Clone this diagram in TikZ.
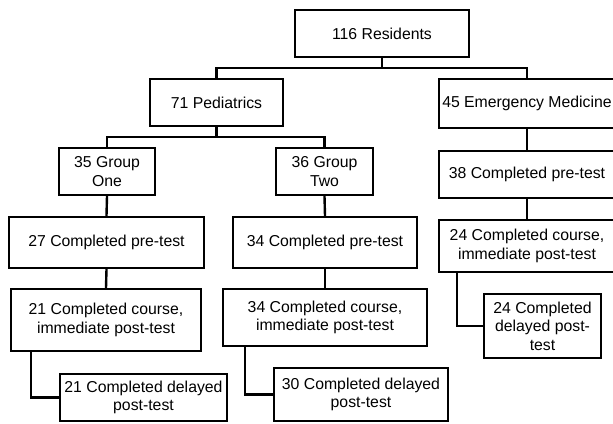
\documentclass[tikz,border=0pt]{standalone}
\usepackage{fontspec}
\setmainfont{Liberation Sans}
\usetikzlibrary{positioning, calc}
\definecolor{ChartBlack}{HTML}{000000}
\definecolor{ChartWhite}{HTML}{ffffff}
\tikzset{
    % Text in all boxes
    every node/.style={font=\fontsize{15.8}{18.5}\selectfont},
    % Flow chart box
    stage/.style={
        rectangle,
        draw=ChartBlack,
        fill=ChartWhite,
        line width=2.4pt,
        inner sep=0pt,
        align=center
    },
    % Connector between boxes
    link/.style={
        line width=2.4pt,
        draw=ChartBlack
    }
}
\begin{document}
\begin{tikzpicture}[x=1pt, y=-1pt]
        \useasboundingbox (0,0) rectangle (613,423);

        % Top levels
        \node (res) [stage, minimum width=174pt, minimum height=47pt] at (382,33.5) {116 Residents};
        \node (ped) [stage, minimum width=133pt, minimum height=47pt] at (216.5,102.5) {71 Pediatrics};
        \node (em) [stage, minimum width=176pt, minimum height=49pt] at (527,103.5) {45 Emergency Medicine};

        % Pediatrics groups
        \node (g1) [stage, minimum width=96pt, minimum height=47pt] at (107,171.5) {35 Group\\One};
        \node (g2) [stage, minimum width=97pt, minimum height=47pt] at (324.5,171.5) {36 Group\\Two};

        % Pre-test
        \node (pre1) [stage, minimum width=195pt, minimum height=51pt] at (106.5,242.5) {27 Completed pre-test};
        \node (pre2) [stage, minimum width=184pt, minimum height=51pt] at (325,242.5) {34 Completed pre-test};
        \node (pre3) [stage, minimum width=176pt, minimum height=47pt] at (527,174.5) {38 Completed pre-test};

        % Course and immediate post-test
        \node (course1) [stage, minimum width=190pt, minimum height=62pt] at (106,320) {21 Completed course,\\immediate post-test};
        \node (course2) [stage, minimum width=204pt, minimum height=57pt] at (325,317.5) {34 Completed course,\\immediate post-test};
        \node (course3) [stage, minimum width=176pt, minimum height=52pt] at (527,246) {24 Completed course,\\immediate post-test};

        % Delayed post-test
        \node (delay1) [stage, minimum width=167pt, minimum height=47pt] at (143.5,397.5) {21 Completed delayed\\post-test};
        \node (delay2) [stage, minimum width=174pt, minimum height=53pt] at (361,394.5) {30 Completed delayed\\post-test};
        \node (delay3) [stage, minimum width=117pt, minimum height=64pt] at (542.5,326) {24 Completed\\delayed post-\\test};

        % Connectors
        \draw [link] (res.south) -- ++(0,10) -| (ped.north);
        \draw [link] (res.south) -- ++(0,10) -| (em.north);
        \draw [link] (ped.south) -- ++(0,10) -| (g1.north);
        \draw [link] (ped.south) -- ++(0,10) -| (g2.north);
        \draw [link] (em.south) -- (pre3.north);
        \draw [link] (g1.south) -- (pre1.north);
        \draw [link] (g2.south) -- (pre2.north);
        \draw [link] (pre1.south) -- (course1.north);
        \draw [link] (pre2.south) -- (course2.north);
        \draw [link] (pre3.south) -- (course3.north);
        \draw [link] (course1.south west) ++(21,0) |- (delay1.west);
        \draw [link] (course2.south west) ++(23,0) |- (delay2.west);
        \draw [link] (course3.south west) ++(19,0) |- (delay3.west);
    \end{tikzpicture}
\end{document}
